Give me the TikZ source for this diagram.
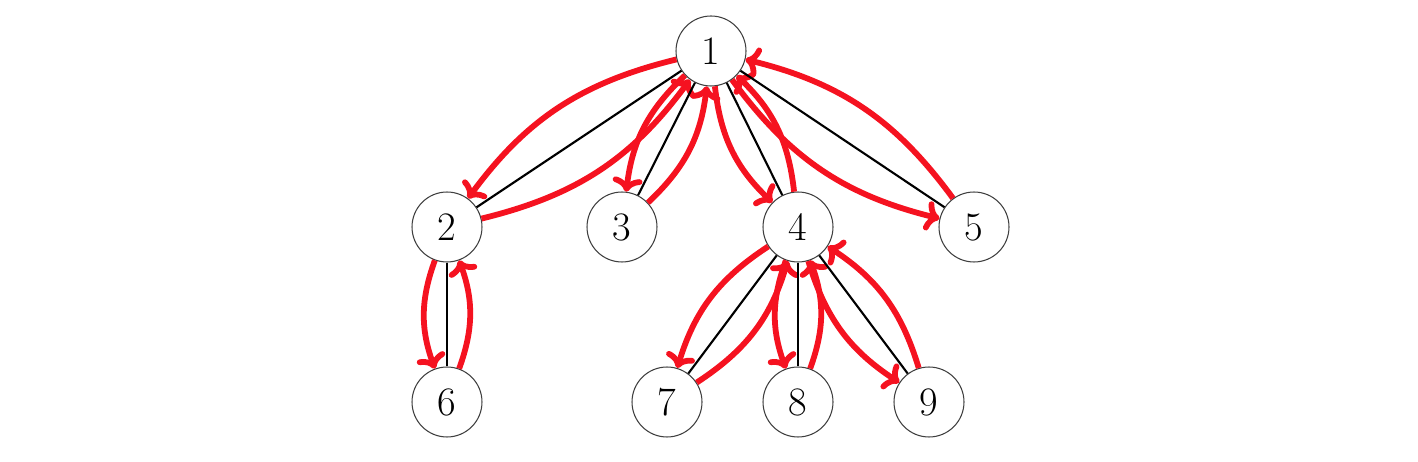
\documentclass[tikz,border=0pt]{standalone}
\usetikzlibrary{arrows.meta}
\definecolor{walkred}{RGB}{245,18,32}
\begin{document}
\begin{tikzpicture}[x=0.02cm,y=-0.02cm,
  vertex/.style={circle,draw=black!75,line width=0.6pt,fill=white,minimum size=1.4cm,inner sep=0pt,font=\fontsize{23}{27}\selectfont},
  tedge/.style={draw=black,line width=1.2pt},
  walk/.style={draw=walkred,line width=3.3pt,-{To[length=8pt,width=17pt]},bend right=20}]
\useasboundingbox (0,0) rectangle (1418,462);
\node[vertex] (n1) at (711,51) {1};
\node[vertex] (n2) at (447,227) {2};
\node[vertex] (n3) at (622,227) {3};
\node[vertex] (n4) at (798,227) {4};
\node[vertex] (n5) at (974,227) {5};
\node[vertex] (n6) at (447,402) {6};
\node[vertex] (n7) at (667,402) {7};
\node[vertex] (n8) at (798,402) {8};
\node[vertex] (n9) at (929,402) {9};
\foreach \a/\b in {n1/n2,n1/n3,n1/n4,n1/n5,n2/n6,n4/n7,n4/n8,n4/n9}{
  \draw[tedge] (\a) -- (\b);
  \draw[walk] (\a) to (\b);
  \draw[walk] (\b) to (\a);
}
\end{tikzpicture}
\end{document}
